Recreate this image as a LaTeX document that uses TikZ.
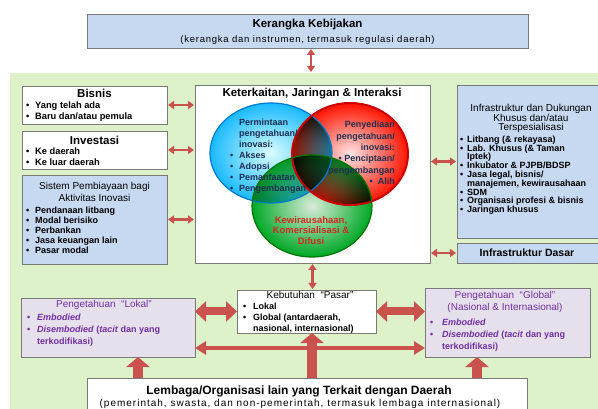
\documentclass[tikz,border=0pt]{standalone}
\usepackage{fontspec}
\setmainfont{Liberation Sans}
\usetikzlibrary{arrows.meta,calc}
\definecolor{kbblue}{HTML}{C6D9F1}
\definecolor{boxgray}{HTML}{7A7A7A}
\definecolor{lav}{HTML}{E6E0EC}
\definecolor{bggreen}{HTML}{DDF2C9}
\definecolor{arrred}{HTML}{C9524E}
\definecolor{purp}{HTML}{7030A0}
\definecolor{navytxt}{HTML}{1F2F4F}
\definecolor{greentxt}{HTML}{D02A20}
\newcommand\bul[1][9pt]{\makebox[#1][l]{\textbullet}}
\begin{document}
\begin{tikzpicture}[x=1pt,y=-1pt,
  box/.style={draw=boxgray,line width=0.7pt,inner sep=0pt,outer sep=0pt},
  bluebox/.style={box,fill=kbblue},
  whitebox/.style={box,fill=white},
  lavbox/.style={box,fill=lav},
  sarr/.style={color=arrred,line width=2.2pt,{Triangle[width=8pt,length=6pt]}-{Triangle[width=8pt,length=6pt]},shorten <=1pt,shorten >=1pt},
  tarr/.style={color=arrred,line width=8pt,{Triangle[width=20pt,length=11pt]}-{Triangle[width=20pt,length=11pt]}},
  larr/.style={color=arrred,line width=4pt,{Triangle[width=13pt,length=11pt]}-{Triangle[width=13pt,length=11pt]}},
  uarr/.style={color=arrred,line width=10pt,-{Triangle[width=23pt,length=10pt]}},
  ttl/.style={font=\bfseries\fontsize{11.5}{13}\selectfont,inner sep=0pt},
  sub/.style={font=\fontsize{10}{12}\selectfont,inner sep=0pt,align=center},
  lst/.style={font=\bfseries\fontsize{9.3}{11}\selectfont,inner sep=0pt,align=left,anchor=north west},
]
\useasboundingbox (0,0) rectangle (598,409);
\clip (0,0) rectangle (598,409);
\fill[white] (0,0) rectangle (598,409);

% top box
\node[bluebox,minimum width=441pt,minimum height=34pt] (kk) at (307.5,31) {};
\node[ttl] (kkt) at (307.5,25) {Kerangka Kebijakan};
\node[font=\fontsize{9.5}{11}\selectfont\addfontfeature{LetterSpace=8},inner sep=0pt] (kks) at (307.5,40) {(kerangka dan instrumen, termasuk regulasi daerah)};

% green background
\node[fill=bggreen,minimum width=590pt,minimum height=338pt,inner sep=0pt,outer sep=0pt] (bg) at (305,242) {};
\coordinate (a1) at (311,0);
\draw[sarr] (kk.south -| a1) -- (bg.north -| a1);

% left boxes
\node[whitebox,minimum width=145pt,minimum height=38pt] (bis) at (94.5,105) {};
\node[ttl] (bist) at (94.5,93) {Bisnis};
\node[lst] (bisl) at (26,102) {\bul Yang telah ada\\\bul Baru dan/atau pemula};

\node[whitebox,minimum width=145pt,minimum height=38pt] (inv) at (94.5,150) {};
\node[ttl] (invt) at (94.5,140) {Investasi};
\node[lst] (invl) at (26,148) {\bul Ke daerah\\\bul Ke luar daerah};

\node[bluebox,minimum width=145pt,minimum height=89pt] (sis) at (94.5,219.5) {};
\node[sub,anchor=north] (sist) at (94.5,182.5) {Sistem Pembiayaan bagi\\Aktivitas Inovasi};
\node[lst,font=\bfseries\fontsize{9}{10}\selectfont] (sisl) at (26,207) {\bul Pendanaan litbang\\\bul Modal berisiko\\\bul Perbankan\\\bul Jasa keuangan lain\\\bul Pasar modal};

% central box
\node[whitebox,minimum width=235pt,minimum height=178pt] (ket) at (312.5,174) {};
\node[ttl] (kett) at (312,94) {Keterkaitan, Jaringan \& Interaksi};
\begin{scope}
\shade[inner color=blue!8!cyan!15,outer color=blue!30!cyan!90,blend mode=multiply] (271,153) ellipse [x radius=61pt,y radius=50pt];
\shade[inner color=red!10,outer color=red!85!orange,blend mode=multiply] (350,154) ellipse [x radius=58pt,y radius=51pt];
\shade[inner color=green!50!black!15,outer color=green!60!black!85!cyan,blend mode=multiply] (312,206) ellipse [x radius=60pt,y radius=51pt];
\end{scope}
\draw[blue!40!cyan!80!black,line width=1.2pt] (271,153) ellipse [x radius=61pt,y radius=50pt];
\draw[red!80!black,line width=2pt] (350,154) ellipse [x radius=58pt,y radius=51pt];
\draw[green!45!black,line width=1.2pt] (312,206) ellipse [x radius=60pt,y radius=51pt];

\node[lst,text=navytxt,font=\bfseries\fontsize{9}{11}\selectfont] (cbt) at (230,119.2) {\hspace*{9pt}Permintaan\\\hspace*{9pt}pengetahuan/\\\hspace*{9pt}inovasi:\\\bul Akses\\\bul Adopsi\\\bul Pemanfaatan\\\bul Pengembangan};
\node[lst,anchor=north east,align=right,text=navytxt,font=\bfseries\fontsize{9}{11.3}\selectfont] (crt) at (395,121.2) {Penyediaan\\pengetahuan/\\inovasi:\\\textbullet\ Penciptaan/\\pengembangan\\\textbullet\ \ Alih};
\node[font=\bfseries\fontsize{9.5}{10.5}\selectfont,text=greentxt,align=center,inner sep=0pt,anchor=north] (cgt) at (311,216) {Kewirausahaan,\\Komersialisasi \&\\Difusi};

% right boxes
\node[bluebox,minimum width=143pt,minimum height=153pt] (inf) at (528.5,161.5) {};
\node[sub,anchor=north,font=\fontsize{10}{9.5}\selectfont] (inft) at (531,104.5) {Infrastruktur dan Dukungan\\Khusus dan/atau\\Terspesialisasi};
\node[lst,font=\bfseries\fontsize{9}{8.8}\selectfont] (infl) at (460,135.5) {\bul[7pt]Litbang (\& rekayasa)\\\bul[7pt]Lab. Khusus (\& Taman\\\hspace*{7pt}Iptek)\\\bul[7pt]Inkubator \& PJPB/BDSP\\\bul[7pt]Jasa legal, bisnis/\\\hspace*{7pt}manajemen, kewirausahaan\\\bul[7pt]SDM\\\bul[7pt]Organisasi profesi \& bisnis\\\bul[7pt]Jaringan khusus};

\node[bluebox,minimum width=143pt,minimum height=20pt] (das) at (528.5,253) {};
\node[ttl,font=\bfseries\fontsize{10.5}{12}\selectfont] (dast) at (527,253) {Infrastruktur Dasar};

% arrows around central box
\draw[sarr] (bis.east) -- (bis.east -| ket.west);
\draw[sarr] (inv.east) -- (inv.east -| ket.west);
\draw[sarr] (sis.east) -- (sis.east -| ket.west);
\draw[sarr] (inf.west -| ket.east) -- (inf.west);
\draw[sarr] (das.west -| ket.east) -- (das.west);

% lower boxes
\node[whitebox,minimum width=139pt,minimum height=43pt] (keb) at (306.5,311.5) {};
\node[sub] (kebt) at (310,295) {Kebutuhan \ “Pasar”};
\node[lst,font=\bfseries\fontsize{9}{11}\selectfont] (kebl) at (243,303.2) {\bul[10pt]Lokal\\\bul[10pt]Global (antardaerah,\\\hspace*{10pt}nasional, internasional)};

\draw[sarr] (ket.south) -- (ket.south |- keb.north);

\node[lavbox,minimum width=174pt,minimum height=59pt] (lok) at (108,327.5) {};
\node[sub,text=purp] (lokt) at (104,305) {Pengetahuan \ “Lokal”};
\node[lst,text=purp,font=\bfseries\fontsize{9}{12}\selectfont] (lokl) at (27,314.2) {\bul[10pt]\textit{Embodied}\\\bul[10pt]\textit{Disembodied} (\textit{tacit} dan yang\\\hspace*{10pt}terkodifikasi)};

\node[lavbox,minimum width=165pt,minimum height=69pt] (glo) at (507.5,322.5) {};
\node[sub,text=purp,anchor=north] (glot) at (505,291) {Pengetahuan \ “Global”\\(Nasional \& Internasional)};
\node[lst,text=purp,font=\bfseries\fontsize{9}{12}\selectfont] (glol) at (430,319.2) {\bul[12pt]\textit{Embodied}\\\bul[12pt]\textit{Disembodied} (\textit{tacit} dan yang\\\hspace*{12pt}terkodifikasi)};

\node[whitebox,minimum width=440pt,minimum height=36pt] (lem) at (307,396) {};
\node[ttl,font=\bfseries\fontsize{12}{13}\selectfont] (lemt) at (299,391) {Lembaga/Organisasi lain yang Terkait dengan Daerah};
\node[font=\fontsize{10}{11}\selectfont\addfontfeature{LetterSpace=10},inner sep=0pt] (lems) at (300,404) {(pemerintah, swasta, dan non-pemerintah, termasuk lembaga internasional)};

% thick arrows
\draw[tarr] (keb.west -| lok.east) -- (keb.west);
\draw[tarr] (keb.east) -- (keb.east -| glo.west);
\coordinate (lh) at (0,348);
\draw[larr] (lok.east |- lh) -- (glo.west |- lh);
\coordinate (u1) at (138,0);
\coordinate (u2) at (312,0);
\coordinate (u3) at (477,0);
\draw[uarr] (lem.north -| u1) -- (lok.south -| u1);
\draw[uarr] (lem.north -| u2) -- (keb.south -| u2);
\draw[uarr] (lem.north -| u3) -- (glo.south -| u3);
\end{tikzpicture}
\end{document}
